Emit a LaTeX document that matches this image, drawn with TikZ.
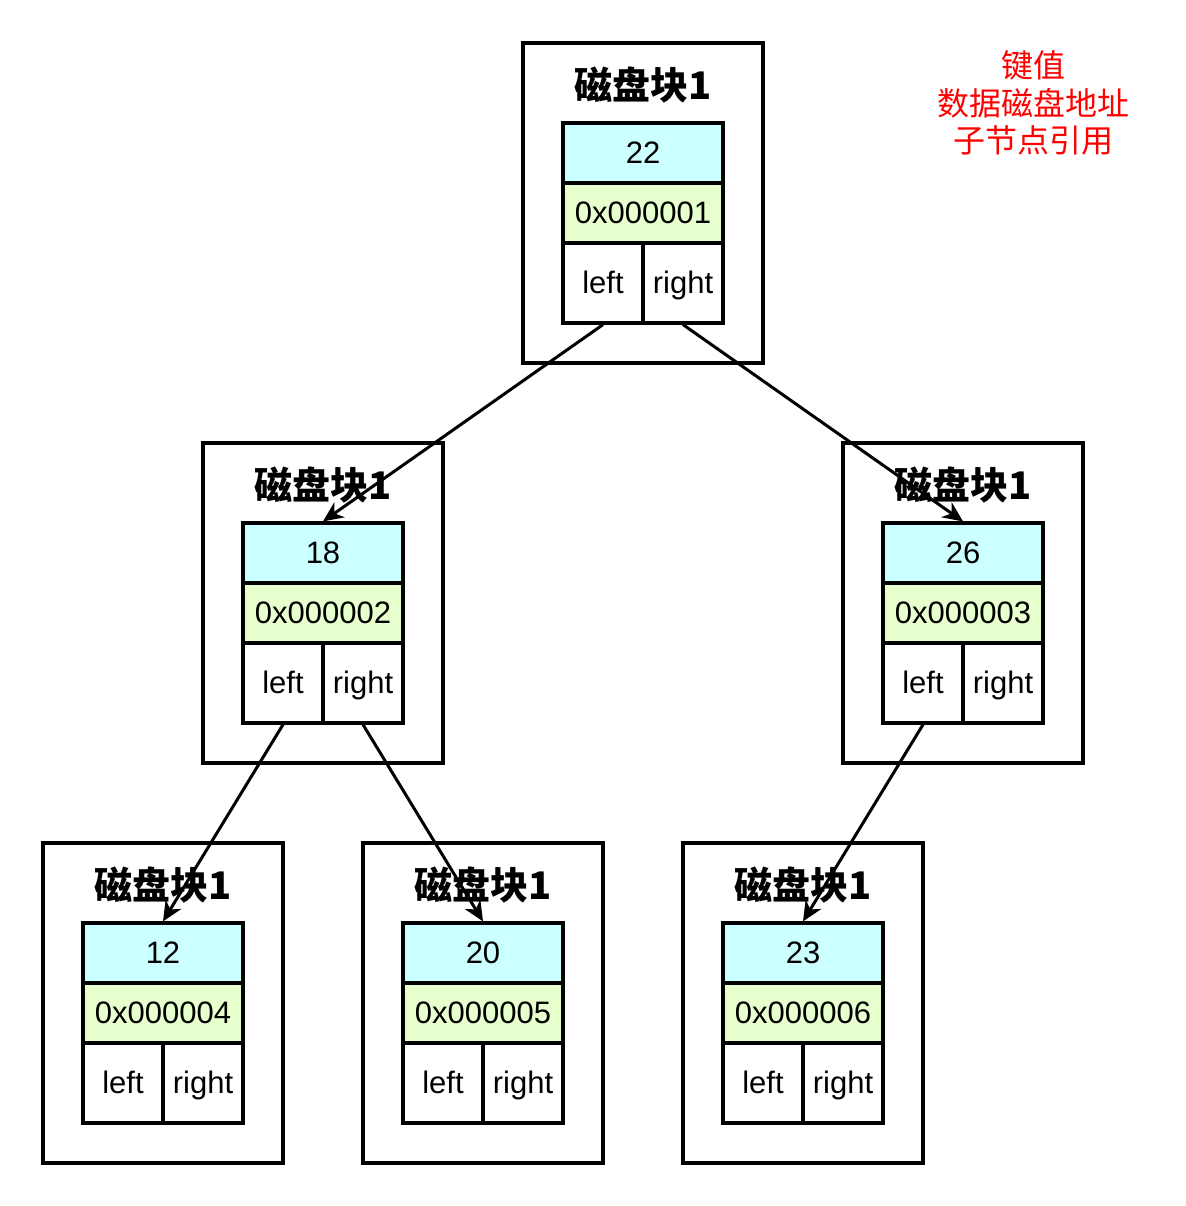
\documentclass[tikz,border=0pt]{standalone}
\usepackage{fontspec}
\setmainfont{Liberation Sans}
\newfontfamily\cjk{Noto Sans CJK SC}
\usetikzlibrary{arrows.meta}
\definecolor{keycol}{HTML}{CCFFFF}
\definecolor{addrcol}{HTML}{E6FFCC}

\begin{document}
\begin{tikzpicture}[
    x=0.5pt, y=-0.5pt,
    block/.style={rectangle, draw, line width=1.6pt, minimum width=120pt, minimum height=160pt, inner sep=0pt},
    title/.style={font=\cjk\bfseries\fontsize{19}{22}\selectfont},
    keycell/.style={rectangle, draw, line width=1.6pt, fill=keycol, minimum width=80pt, minimum height=30pt, inner sep=0pt, text height=12pt, text depth=2pt, font=\fontsize{15.5}{18}\selectfont},
    addrcell/.style={keycell, fill=addrcol},
    refcell/.style={keycell, fill=white, minimum width=40pt, minimum height=40pt},
    arrow/.style={-{Stealth[length=10pt, width=9pt, inset=3pt]}, line width=1.5pt}
]
\useasboundingbox (0,0) rectangle (1186,1206);

% Disk blocks
\foreach \n/\x/\y/\k/\a in {b22/523/43/22/0x000001, b18/203/443/18/0x000002, b26/843/443/26/0x000003,
                            b12/43/843/12/0x000004, b20/363/843/20/0x000005, b23/683/843/23/0x000006} {
    \node[block] (\n) at ({\x+120},{\y+160}) {};
    \node[title] (\n-title) at ({\x+120},{\y+42}) {磁盘块1};
    \node[keycell] (\n-key) at ({\x+120},{\y+110}) {\k};
    \node[addrcell] (\n-addr) at ({\x+120},{\y+170}) {\a};
    \node[refcell] (\n-left) at ({\x+80},{\y+240}) {left};
    \node[refcell] (\n-right) at ({\x+160},{\y+240}) {right};
}

% Legend
\node[text=red, align=center, font=\cjk\fontsize{16}{18.75}\selectfont] (legend) at (1033,103) {键值\\数据磁盘地址\\子节点引用};

% Child references
\draw[arrow] (b22-left.south) -- (b18-key.north);
\draw[arrow] (b22-right.south) -- (b26-key.north);
\draw[arrow] (b18-left.south) -- (b12-key.north);
\draw[arrow] (b18-right.south) -- (b20-key.north);
\draw[arrow] (b26-left.south) -- (b23-key.north);

\end{tikzpicture}
\end{document}
